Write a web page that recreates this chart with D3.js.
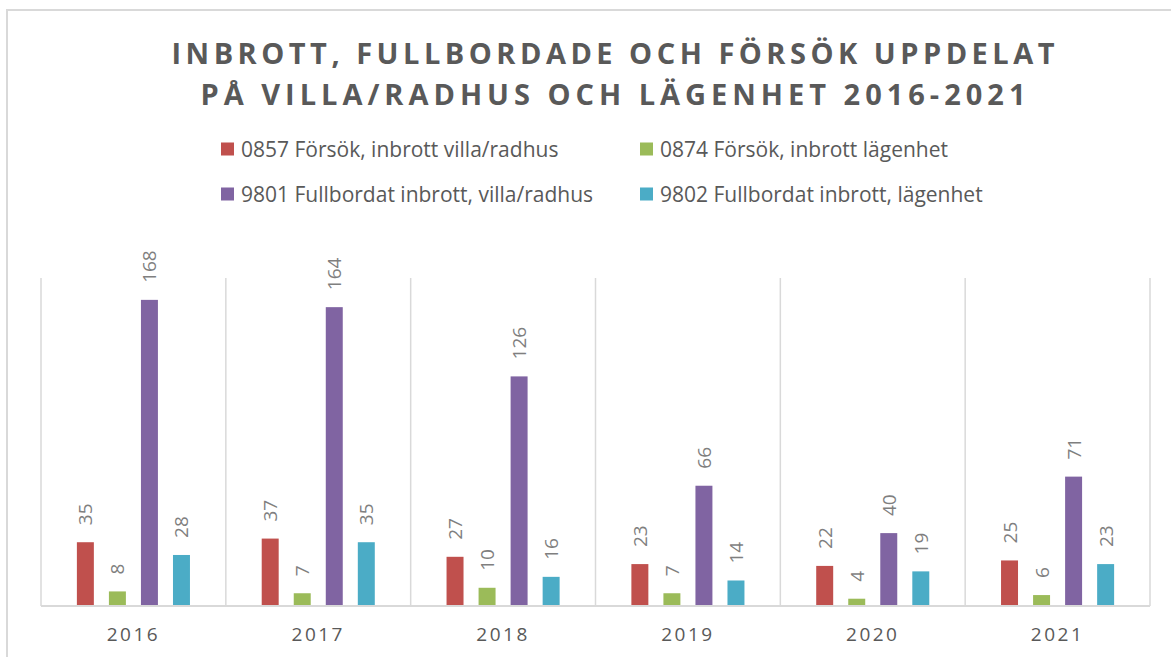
<!doctype html>
<html>
<head>
<meta charset="utf-8">
<script src="https://cdn.jsdelivr.net/npm/d3@7"></script>
<style>
  body { margin: 0; background: #fff; }
  svg { display: block; font-family: "Open Sans", sans-serif; }
</style>
</head>
<body>
<svg width="1171" height="657"></svg>
<script>
var years = ["2016", "2017", "2018", "2019", "2020", "2021"];
var seriesNames = [
  "0857 Försök, inbrott villa/radhus",
  "0874 Försök, inbrott lägenhet",
  "9801 Fullbordat inbrott, villa/radhus",
  "9802 Fullbordat inbrott, lägenhet"
];
var forsokVilla = [35, 37, 27, 23, 22, 25];
var forsokLgh = [8, 7, 10, 7, 4, 6];
var fullbVilla = [168, 164, 126, 66, 40, 71];
var fullbLgh = [28, 35, 16, 14, 19, 23];
var colors = ["#c0504d", "#9bbb59", "#8064a2", "#4bacc6"];
var titleLines = ["INBROTT, FULLBORDADE OCH FÖRSÖK UPPDELAT", "PÅ VILLA/RADHUS OCH LÄGENHET 2016-2021"];

var allSeries = [forsokVilla, forsokLgh, fullbVilla, fullbLgh];

var svg = d3.select("svg");

// outer frame
svg.append("rect")
   .attr("x", 7).attr("y", 10)
   .attr("width", 1180).attr("height", 670)
   .attr("fill", "none")
   .attr("stroke", "#d9d9d9")
   .attr("stroke-width", 2);

// title
svg.selectAll("text.title")
   .data(titleLines)
   .enter().append("text")
   .attr("class", "title")
   .attr("x", 613)
   .attr("y", (d, i) => 64 + i * 41)
   .attr("text-anchor", "middle")
   .attr("textLength", (d, i) => i == 0 ? 883 : 825)
   .attr("lengthAdjust", "spacing")
   .style("font-size", "29px")
   .style("font-weight", "bold")
   .style("fill", "#595959")
   .text(d => d);

// legend, two columns x two rows
var legend = svg.selectAll("g.legend")
   .data(seriesNames)
   .enter().append("g")
   .attr("class", "legend")
   .attr("transform", (d, i) => "translate(" + (i % 2 == 0 ? 221 : 640) + "," + (i < 2 ? 149 : 194) + ")");

legend.append("rect")
   .attr("x", 0).attr("y", -6.5)
   .attr("width", 13).attr("height", 13)
   .attr("fill", (d, i) => colors[i]);

legend.append("text")
   .attr("x", 20)
   .attr("y", 7.5)
   .style("font-size", "21px")
   .style("fill", "#595959")
   .text(d => d);

// scales
var xScale = d3.scaleBand().domain(years).range([41, 1150]);
var xInner = d3.scaleBand().domain(d3.range(4)).range([0, xScale.bandwidth()])
               .paddingInner(0.47).paddingOuter(1.12);
var yScale = d3.scaleLinear().domain([0, 180]).range([606, 278]);

// vertical separators
var bounds = years.map(y => xScale(y)).concat([xScale.range()[1]]);
svg.selectAll("line.sep")
   .data(bounds)
   .enter().append("line")
   .attr("class", "sep")
   .attr("x1", d => d).attr("x2", d => d)
   .attr("y1", yScale(180)).attr("y2", yScale(0))
   .attr("stroke", "#d9d9d9")
   .attr("stroke-width", 1.5);

// bars
var groups = svg.selectAll("g.year")
   .data(years)
   .enter().append("g")
   .attr("class", "year")
   .attr("transform", d => "translate(" + xScale(d) + ",0)");

groups.selectAll("rect")
   .data((d, yi) => allSeries.map((s, si) => ({ si: si, v: s[yi] })))
   .enter().append("rect")
   .attr("x", d => xInner(d.si))
   .attr("width", xInner.bandwidth())
   .attr("y", d => yScale(d.v))
   .attr("height", d => yScale(0) - yScale(d.v))
   .attr("fill", d => colors[d.si]);

groups.selectAll("text")
   .data((d, yi) => allSeries.map((s, si) => ({ si: si, v: s[yi] })))
   .enter().append("text")
   .attr("transform", d => "translate(" + (xInner(d.si) + xInner.bandwidth() / 2 + 7) + "," + (yScale(d.v) - 17) + ") rotate(-90)")
   .style("font-size", "19px")
   .style("fill", "#7f7f7f")
   .text(d => d.v);

// baseline
svg.append("line")
   .attr("x1", 41).attr("x2", 1150)
   .attr("y1", yScale(0)).attr("y2", yScale(0))
   .attr("stroke", "#d9d9d9")
   .attr("stroke-width", 2);

// x axis labels
svg.selectAll("text.xlab")
   .data(years)
   .enter().append("text")
   .attr("class", "xlab")
   .attr("x", d => xScale(d) + xScale.bandwidth() / 2)
   .attr("y", 641)
   .attr("text-anchor", "middle")
   .style("font-size", "19px")
   .style("letter-spacing", "2.5px")
   .style("fill", "#595959")
   .text(d => d);
</script>
</body>
</html>
